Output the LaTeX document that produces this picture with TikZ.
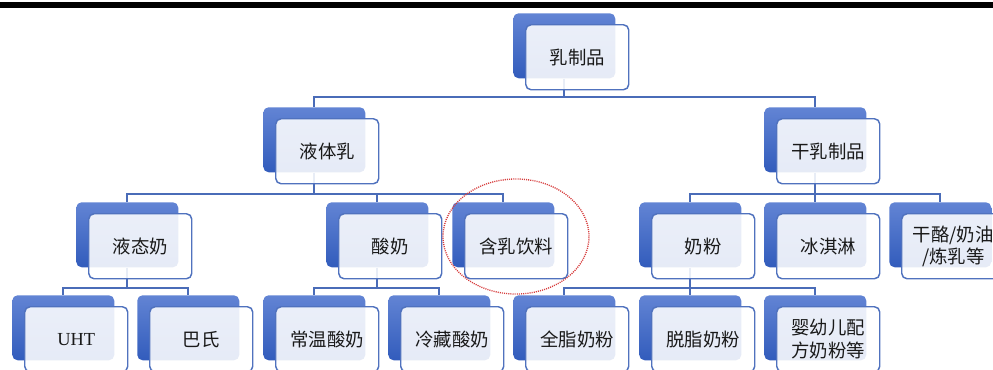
\documentclass[tikz,border=0pt]{standalone}
\usepackage{fontspec}
\setmainfont{Liberation Serif}
\newfontfamily\cjk{Noto Sans CJK SC}
\usetikzlibrary{shapes.geometric}
\definecolor{backtop}{RGB}{98,132,212}
\definecolor{backbot}{RGB}{50,92,188}
\definecolor{frameblue}{RGB}{80,114,190}
\definecolor{connblue}{RGB}{74,108,184}
\definecolor{txt}{RGB}{25,25,25}
\definecolor{hlred}{RGB}{214,60,60}
\pgfdeclarelayer{bg}
\pgfsetlayers{bg,main}
\tikzset{
  backbox/.style={rounded corners=4pt, minimum width=76.5pt, minimum height=48.75pt,
    inner sep=0pt, top color=backtop, bottom color=backbot, anchor=north west},
  frontbox/.style={rounded corners=4pt, minimum width=77.25pt, minimum height=48.75pt,
    inner sep=0pt, draw=frameblue, line width=1.1pt, fill=white, fill opacity=0.88,
    text opacity=1, text=txt, anchor=north west, align=center,
    font=\cjk\fontsize{13.8}{17}\selectfont},
  conn/.style={draw=connblue, line width=1.5pt},
}
\newcommand\dbox[4]{%
  \node[backbox] (#1B) at (#2,#3) {};
  \node[frontbox] (#1) at ([xshift=9pt,yshift=-8.25pt]#1B.north west) {#4};}
\begin{document}
\begin{tikzpicture}[x=0.75pt,y=-0.75pt]
\useasboundingbox (0,0) rectangle (993,369);
\clip (0,0) rectangle (993,369);
\fill[black] (0,2) rectangle (993,7.5);
% boxes
\dbox{root}{513}{13}{乳制品}
\dbox{ytr}{263}{107}{液体乳}
\dbox{gzp}{764}{107}{干乳制品}
\dbox{ytn}{76}{202}{液态奶}
\dbox{sn}{326}{202}{酸奶}
\dbox{hr}{452}{202}{含乳饮料}
\dbox{nf}{639}{202}{奶粉}
\dbox{bql}{764}{202}{冰淇淋}
\dbox{gl}{889}{202}{干酪/奶油\\/炼乳等}
\dbox{uht}{12}{295}{{\rmfamily UHT}}
\dbox{bs}{137}{295}{巴氏}
\dbox{cw}{263}{295}{常温酸奶}
\dbox{lc}{388}{295}{冷藏酸奶}
\dbox{qz}{513}{295}{全脂奶粉}
\dbox{tz}{639}{295}{脱脂奶粉}
\dbox{yy}{764}{295}{婴幼儿配\\方奶粉等}
% connectors
\begin{pgfonlayer}{bg}
\draw[conn] (rootB.south) -- (rootB.south |- 0,97) -| (ytrB.north);
\draw[conn] (rootB.south |- 0,97) -| (gzpB.north);
\draw[conn] (ytrB.south) -- (ytrB.south |- 0,194) -| (ytnB.north);
\draw[conn] (ytrB.south |- 0,194) -| (snB.north);
\draw[conn] (ytrB.south |- 0,194) -| (hrB.north);
\draw[conn] (gzpB.south) -- (gzpB.south |- 0,194) -| (nfB.north);
\draw[conn] (gzpB.south |- 0,194) -| (bqlB.north);
\draw[conn] (gzpB.south |- 0,194) -| (glB.north);
\draw[conn] (ytnB.south) -- (ytnB.south |- 0,288) -| (uhtB.north);
\draw[conn] (ytnB.south |- 0,288) -| (bsB.north);
\draw[conn] (snB.south) -- (snB.south |- 0,288) -| (cwB.north);
\draw[conn] (snB.south |- 0,288) -| (lcB.north);
\draw[conn] (nfB.south) -- (nfB.south |- 0,288) -| (qzB.north);
\draw[conn] (nfB.south |- 0,288) -| (tzB.north);
\draw[conn] (nfB.south |- 0,288) -| (yyB.north);
\end{pgfonlayer}
% highlight
\node[ellipse, draw=hlred, line width=1pt, dash pattern=on 0.8pt off 0.8pt,
  minimum width=109.5pt, minimum height=86.25pt, inner sep=0pt] (hl) at (516,236.5) {};
\end{tikzpicture}
\end{document}
